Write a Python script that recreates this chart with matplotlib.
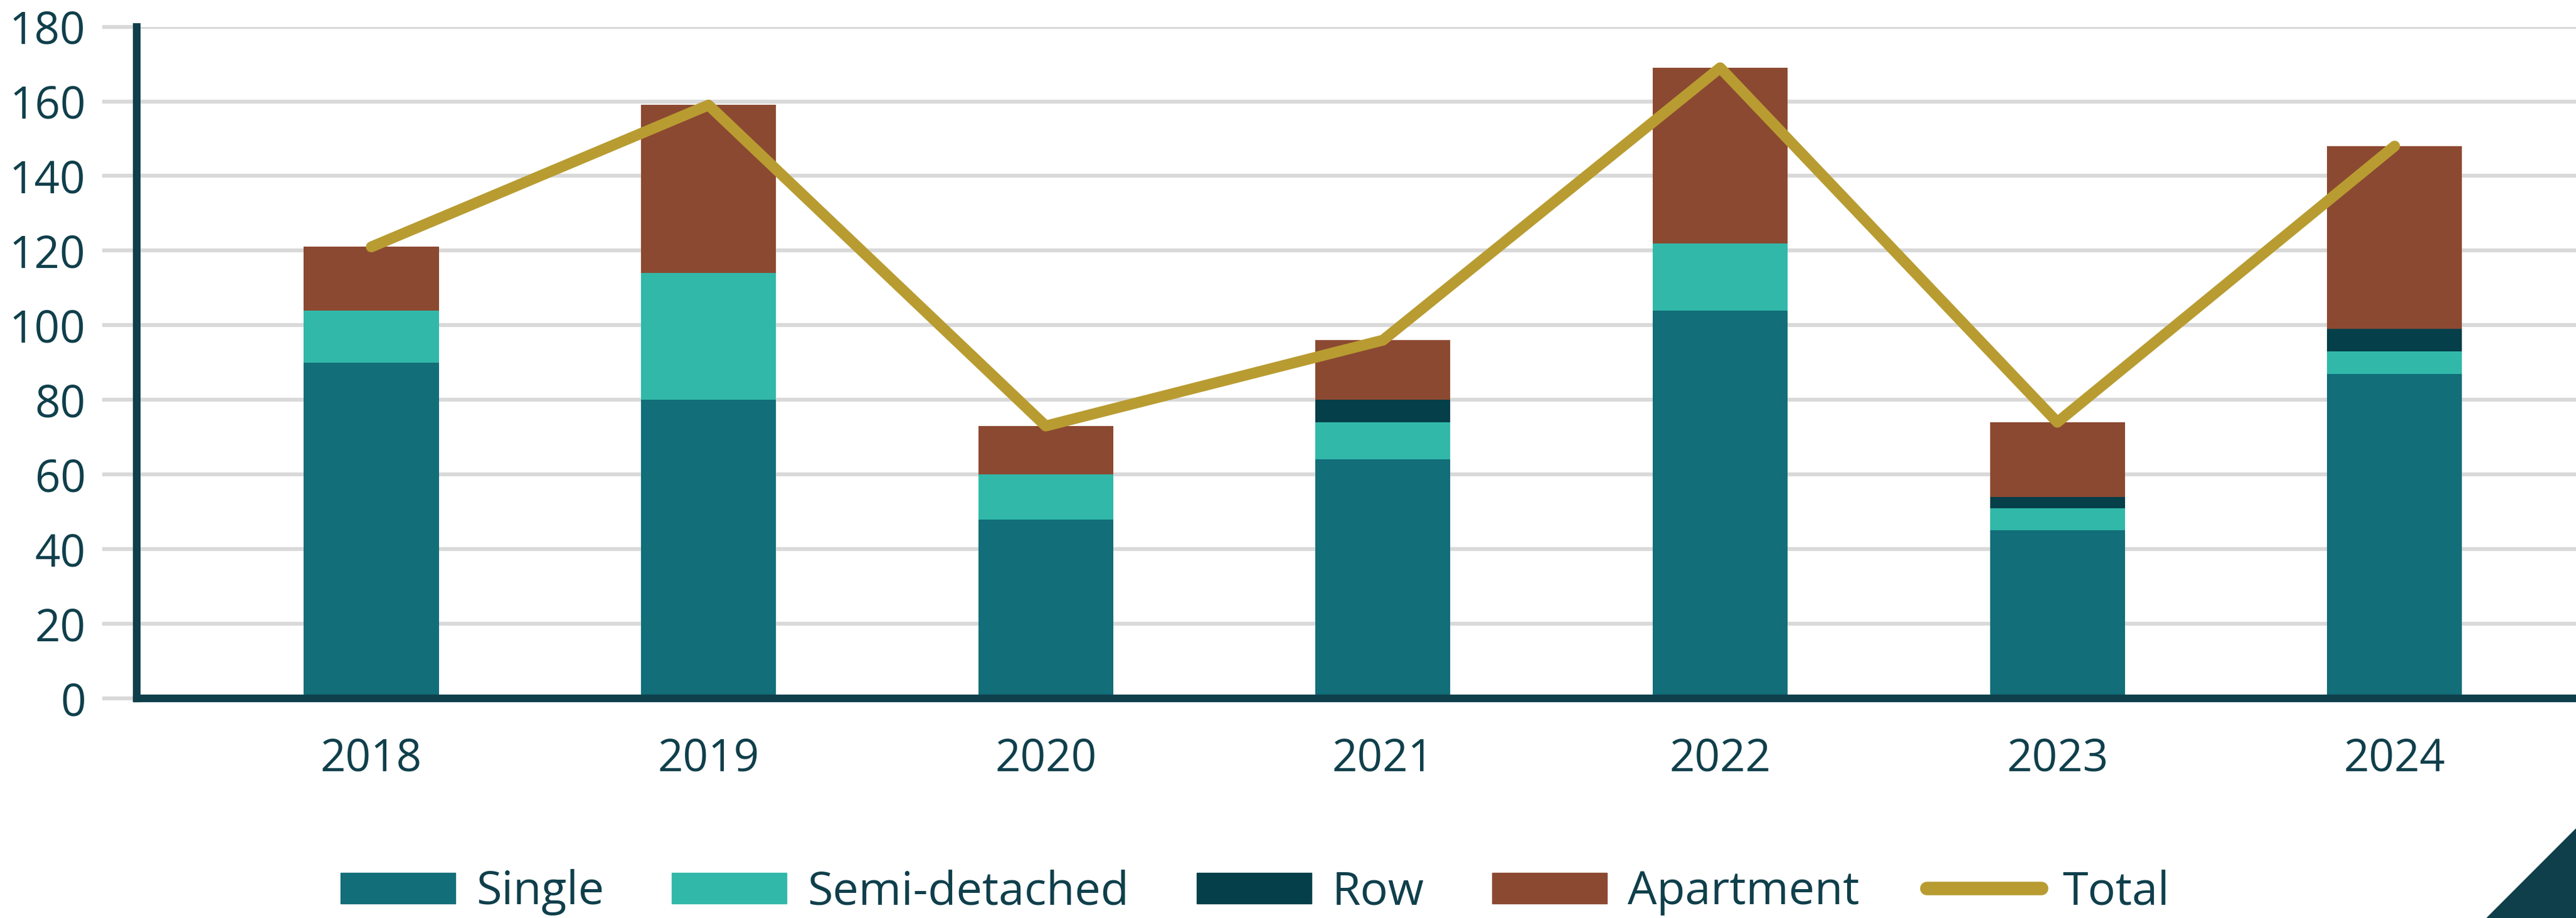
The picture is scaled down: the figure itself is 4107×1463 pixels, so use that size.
import matplotlib
matplotlib.use("Agg")
import matplotlib.pyplot as plt
from matplotlib.patches import Polygon, Patch
from matplotlib.lines import Line2D
import numpy as np

plt.rcParams['font.family'] = ['Open Sans', 'DejaVu Sans']

# ---- data ----
years = ["2018", "2019", "2020", "2021", "2022", "2023", "2024"]
single = [90, 80, 48, 64, 104, 45, 87]
semi_detached = [14, 34, 12, 10, 18, 6, 6]
row = [0, 0, 0, 6, 0, 3, 6]
apartment = [17, 45, 13, 16, 47, 20, 49]
total = [121, 159, 73, 96, 169, 74, 148]
y_ticks = [0, 20, 40, 60, 80, 100, 120, 140, 160, 180]
series_names = ["Single", "Semi-detached", "Row", "Apartment", "Total"]

# ---- style ----
C_SINGLE = "#126E79"
C_SEMI = "#31B8A9"
C_ROW = "#043F4A"
C_APT = "#8C4931"
C_TOTAL = "#B89C31"
C_DARK = "#0F3F4B"
C_GRID = "#D9D9D9"

W, H = 4107, 1463
fig = plt.figure(figsize=(W / 100, H / 100), dpi=100)
ax_left = 218 / W
ax_bottom = 1 - 1113 / H
ax_top = 1 - 42.6 / H
ax = fig.add_axes([ax_left, ax_bottom, 1 - ax_left, ax_top - ax_bottom])

x = np.arange(len(years))
bw = 0.40
b0 = np.zeros(len(years))
ax.bar(x, single, bw, bottom=b0, color=C_SINGLE, zorder=2)
b1 = b0 + np.array(single)
ax.bar(x, semi_detached, bw, bottom=b1, color=C_SEMI, zorder=2)
b2 = b1 + np.array(semi_detached)
ax.bar(x, row, bw, bottom=b2, color=C_ROW, zorder=2)
b3 = b2 + np.array(row)
ax.bar(x, apartment, bw, bottom=b3, color=C_APT, zorder=2)

ax.plot(x, total, color=C_TOTAL, lw=12.5, solid_capstyle='round',
        solid_joinstyle='round', zorder=4)

ax.set_xlim(-0.6957, 6.538)
ax.set_ylim(0, 180)
ax.set_yticks(y_ticks)
ax.set_yticklabels([str(v) for v in y_ticks])
ax.set_xticks(x)
ax.set_xticklabels(years)

ax.set_axisbelow(True)
ax.yaxis.grid(True, color=C_GRID, lw=4.5)
ax.xaxis.grid(False)

for s in ['top', 'right']:
    ax.spines[s].set_visible(False)
for s in ['left', 'bottom']:
    ax.spines[s].set_color(C_DARK)
    ax.spines[s].set_linewidth(8.8)
    ax.spines[s].set_zorder(3)
ax.spines['bottom'].set_capstyle('projecting')

ax.tick_params(axis='y', length=39.6, width=4.5, color=C_GRID, pad=19,
               labelsize=51, labelcolor=C_DARK)
ax.tick_params(axis='x', length=0, pad=44, labelsize=51, labelcolor=C_DARK)

handles = [Patch(color=C_SINGLE), Patch(color=C_SEMI), Patch(color=C_ROW),
           Patch(color=C_APT),
           Line2D([0], [0], color=C_TOTAL, lw=15.5, solid_capstyle='round')]
fig.legend(handles, series_names, loc='center', bbox_to_anchor=(0.4872, 0.028),
           ncol=5, frameon=False, fontsize=53, handlelength=2.49,
           handleheight=0.652, handletextpad=0.45, columnspacing=1.46,
           labelcolor=C_DARK, borderpad=0, borderaxespad=0)

tri = Polygon([(3965 / W, 0), (1, 142 / H), (1, 0)], closed=True,
              transform=fig.transFigure, color=C_DARK)
fig.add_artist(tri)

fig.savefig("out.png", dpi=100)
